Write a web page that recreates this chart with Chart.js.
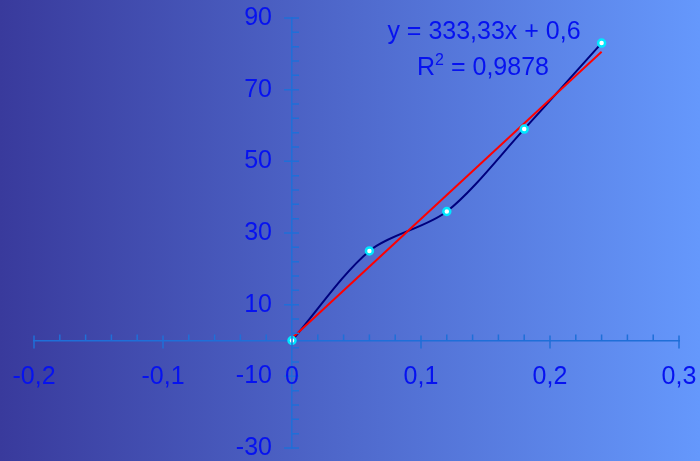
<!DOCTYPE html>
<html>
<head>
<meta charset="utf-8">
<script src="https://cdn.jsdelivr.net/npm/chart.js@4/dist/chart.umd.min.js"></script>
<style>
  html, body { margin: 0; padding: 0; }
  body { width: 700px; height: 461px; overflow: hidden; background: linear-gradient(to right, #393a9c, #6598fc); }
  #wrap { position: relative; width: 700px; height: 461px; }
</style>
</head>
<body>
<div id="wrap"><canvas id="chart"></canvas></div>
<script>
// data
const xValues = [0, 0.06, 0.12, 0.18, 0.24];
const yValues = [0, 25, 36, 59, 83];
const xTickLabels = [-0.2, -0.1, 0, 0.1, 0.2, 0.3];
const yTickLabels = [-30, -10, 10, 30, 50, 70, 90];
const trendSlope = 333.33;
const trendIntercept = 0.6;
const rSquared = 0.9878;

const axisColor = "#1f6fd8";
const labelColor = "#0612f0";
const fontFamily = "'Liberation Sans', Arial, sans-serif";
const labelFont = "25px " + fontFamily;

function fmt(v, digits) {
    if (Math.abs(v) < 1e-9) return "0";
    return v.toFixed(digits).replace(".", ",");
}

function isLabelled(list, v) {
    return list.some(t => Math.abs(t - v) < 1e-6);
}

const points = xValues.map((x, i) => ({ x: x, y: yValues[i] }));
const trendXs = [xValues[0], xValues[xValues.length - 1]];
const trend = trendXs.map(x => ({ x: x, y: trendSlope * x + trendIntercept }));

// tick marks and labels on the crossing axes
const crossAxes = {
    id: "crossAxes",
    afterDatasetsDraw(chart) {
        const { ctx, scales: { x, y } } = chart;
        const x0 = x.getPixelForValue(0);
        const y0 = y.getPixelForValue(0);
        ctx.save();
        ctx.strokeStyle = axisColor;
        ctx.lineWidth = 1.5;
        ctx.beginPath();
        x.ticks.forEach(t => {
            const px = x.getPixelForValue(t.value);
            if (isLabelled(xTickLabels, t.value)) {
                ctx.moveTo(px, y0 - 5); ctx.lineTo(px, y0 + 8);
            } else {
                ctx.moveTo(px, y0 - 6); ctx.lineTo(px, y0);
            }
        });
        y.ticks.forEach(t => {
            const py = y.getPixelForValue(t.value);
            if (isLabelled(yTickLabels, t.value)) {
                ctx.moveTo(x0 - 8, py); ctx.lineTo(x0 + 7, py);
            } else {
                ctx.moveTo(x0, py); ctx.lineTo(x0 + 7, py);
            }
        });
        ctx.stroke();

        ctx.fillStyle = labelColor;
        ctx.font = labelFont;
        ctx.textBaseline = "middle";
        ctx.textAlign = "center";
        xTickLabels.forEach(v => ctx.fillText(fmt(v, 1), x.getPixelForValue(v), y0 + 37));
        ctx.textAlign = "right";
        yTickLabels.forEach(v => ctx.fillText(String(v), x0 - 20, y.getPixelForValue(v)));
        ctx.restore();
    }
};

// trendline equation text
const equation = {
    id: "equation",
    afterDraw(chart) {
        const ctx = chart.ctx;
        ctx.save();
        ctx.fillStyle = labelColor;
        ctx.font = labelFont;
        ctx.textBaseline = "middle";
        ctx.textAlign = "center";
        ctx.fillText("y = " + fmt(trendSlope, 2) + "x + " + fmt(trendIntercept, 1), 484, 32);
        const rest = " = " + fmt(rSquared, 4);
        const wR = ctx.measureText("R").width;
        ctx.font = "16px " + fontFamily;
        const w2 = ctx.measureText("2").width;
        ctx.font = labelFont;
        const wRest = ctx.measureText(rest).width;
        const left = 483 - (wR + w2 + wRest) / 2;
        ctx.textAlign = "left";
        ctx.fillText("R", left, 68);
        ctx.font = "16px " + fontFamily;
        ctx.fillText("2", left + wR, 61);
        ctx.font = labelFont;
        ctx.fillText(rest, left + wR + w2, 68);
        ctx.restore();
    }
};

new Chart(document.getElementById("chart"), {
    type: "scatter",
    data: {
        datasets: [
            {
                label: "Series",
                data: points,
                showLine: true,
                tension: 0.3,
                borderColor: "#00007e",
                borderWidth: 2,
                pointRadius: 0,
                fill: false,
                order: 3
            },
            {
                label: "Trend",
                data: trend,
                showLine: true,
                borderColor: "#ff0000",
                borderWidth: 2,
                pointRadius: 0,
                fill: false,
                order: 2
            },
            {
                label: "Points",
                data: points,
                showLine: false,
                pointRadius: 3.5,
                pointBorderWidth: 2.5,
                pointBackgroundColor: "#ffffff",
                pointBorderColor: "#00e8ff",
                order: 1
            }
        ]
    },
    options: {
        responsive: true,
        maintainAspectRatio: false,
        animation: false,
        layout: { padding: { left: 34, right: 21, top: 18, bottom: 13 } },
        plugins: {
            legend: { display: false },
            tooltip: { enabled: false }
        },
        scales: {
            x: {
                type: "linear",
                min: -0.2,
                max: 0.3,
                position: { y: 0 },
                grid: { display: false, drawTicks: false },
                border: { display: true, color: axisColor, width: 1.5 },
                ticks: { stepSize: 0.02, autoSkip: false, display: false }
            },
            y: {
                type: "linear",
                min: -30,
                max: 90,
                position: { x: 0 },
                grid: { display: false, drawTicks: false },
                border: { display: true, color: axisColor, width: 1.5 },
                ticks: { stepSize: 4, autoSkip: false, display: false }
            }
        }
    },
    plugins: [crossAxes, equation]
});
</script>
</body>
</html>
